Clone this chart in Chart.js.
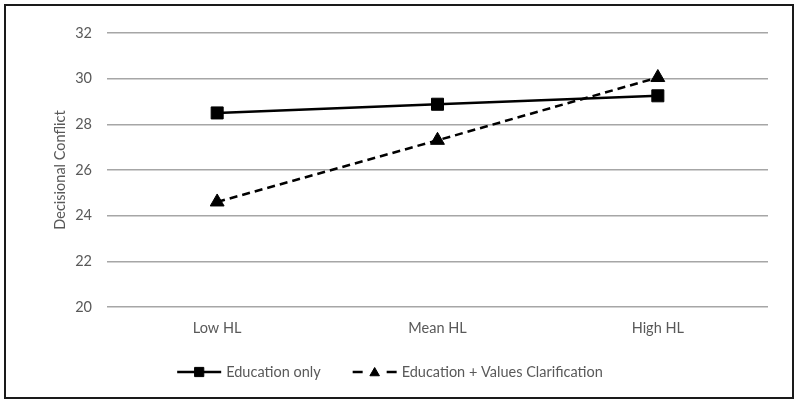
<!DOCTYPE html>
<html>
<head>
<meta charset="utf-8">
<script src="https://cdn.jsdelivr.net/npm/chart.js@4/dist/chart.umd.min.js"></script>
<style>
  html, body { margin: 0; padding: 0; background: #fff; }
  #wrap { width: 800px; height: 405px; position: relative; }
</style>
</head>
<body>
<div id="wrap"><canvas id="c" width="800" height="405"></canvas></div>
<script>
const categories = ["Low HL", "Mean HL", "High HL"];
const educationOnly = [28.5, 28.88, 29.25];
const educationValues = [24.6, 27.3, 30.05];
const seriesNames = ["Education only", "Education + Values Clarification"];
const yTicks = [20, 22, 24, 26, 28, 30, 32];
const yTitle = "Decisional Conflict";

const FONT = "Lato, 'Open Sans', sans-serif";
const FS = 14.5;
const TEXT = "#595959";

const frame = {
  id: "frame",
  afterDraw(chart) {
    const ctx = chart.ctx;
    ctx.save();
    ctx.strokeStyle = "#1a1a1a";
    ctx.lineWidth = 2;
    ctx.strokeRect(5, 5, 788, 393);
    ctx.restore();
  }
};

const legendPlugin = {
  id: "customLegend",
  afterDraw(chart) {
    const ctx = chart.ctx;
    ctx.save();
    ctx.font = FS + "px " + FONT;
    ctx.textBaseline = "middle";
    const y = 372;
    const lineLen = 44, gapText = 5, gapItems = 32;
    const items = chart.data.datasets.map(ds => ({ ds, w: ctx.measureText(ds.label).width }));
    const total = items.reduce((s, it) => s + lineLen + gapText + it.w, 0) + gapItems * (items.length - 1);
    let x = 390 - total / 2;
    items.forEach(it => {
      const ds = it.ds;
      ctx.strokeStyle = ds.borderColor;
      ctx.lineWidth = ds.borderWidth;
      ctx.setLineDash([]);
      if (ds.borderDash && ds.borderDash.length) {
        ctx.beginPath(); ctx.moveTo(x, y); ctx.lineTo(x + 10, y); ctx.stroke();
        ctx.beginPath(); ctx.moveTo(x + lineLen - 10, y); ctx.lineTo(x + lineLen, y); ctx.stroke();
      } else {
        ctx.beginPath(); ctx.moveTo(x, y); ctx.lineTo(x + lineLen, y); ctx.stroke();
      }
      ctx.fillStyle = ds.pointBackgroundColor;
      ctx.strokeStyle = ds.pointBorderColor;
      ctx.lineWidth = 1;
      const tri = ds.pointStyle === "triangle";
      Chart.helpers.drawPoint(ctx, { pointStyle: ds.pointStyle, rotation: 0, borderWidth: 1, radius: tri ? 5.5 : 6.5 },
        x + lineLen / 2, tri ? y + 1 : y);
      ctx.fillStyle = TEXT;
      ctx.textAlign = "left";
      ctx.fillText(ds.label, x + lineLen + gapText, y);
      x += lineLen + gapText + it.w + gapItems;
    });
    ctx.restore();
  }
};

new Chart(document.getElementById("c"), {
  type: "line",
  data: {
    labels: categories,
    datasets: [
      {
        label: seriesNames[0],
        data: educationOnly,
        borderColor: "#000",
        borderWidth: 2.5,
        pointStyle: "rect",
        pointRadius: 8.5,
        pointHoverRadius: 8.5,
        pointBackgroundColor: "#000",
        pointBorderColor: "#000",
        pointBorderWidth: 1,
        tension: 0,
        fill: false
      },
      {
        label: seriesNames[1],
        data: educationValues,
        borderColor: "#000",
        borderWidth: 2.5,
        borderDash: [8, 5],
        pointStyle: "triangle",
        pointRadius: 8,
        pointHoverRadius: 8,
        pointBackgroundColor: "#000",
        pointBorderColor: "#000",
        pointBorderWidth: 1,
        tension: 0,
        fill: false
      }
    ]
  },
  options: {
    responsive: false,
    animation: false,
    layout: { padding: { left: 6, right: 32, top: 33, bottom: 58 } },
    plugins: {
      legend: { display: false },
      tooltip: { enabled: false }
    },
    scales: {
      x: {
        offset: true,
        grid: { display: false, drawTicks: false },
        border: { display: false },
        ticks: { color: TEXT, font: { family: FONT, size: FS }, padding: 13 },
        afterFit(s) { s.height = 40; }
      },
      y: {
        min: 20,
        max: 32,
        afterBuildTicks(s) { s.ticks = yTicks.map(v => ({ value: v })); },
        grid: { color: "#a6a6a6", lineWidth: 1.5, drawTicks: false },
        border: { display: false },
        ticks: { color: TEXT, font: { family: FONT, size: FS }, padding: 15 },
        title: {
          display: true,
          text: yTitle,
          color: TEXT,
          font: { family: FONT, size: FS },
          padding: { top: 46, bottom: 0 }
        },
        afterFit(s) { s.width = 101; }
      }
    }
  },
  plugins: [frame, legendPlugin]
});
</script>
</body>
</html>
